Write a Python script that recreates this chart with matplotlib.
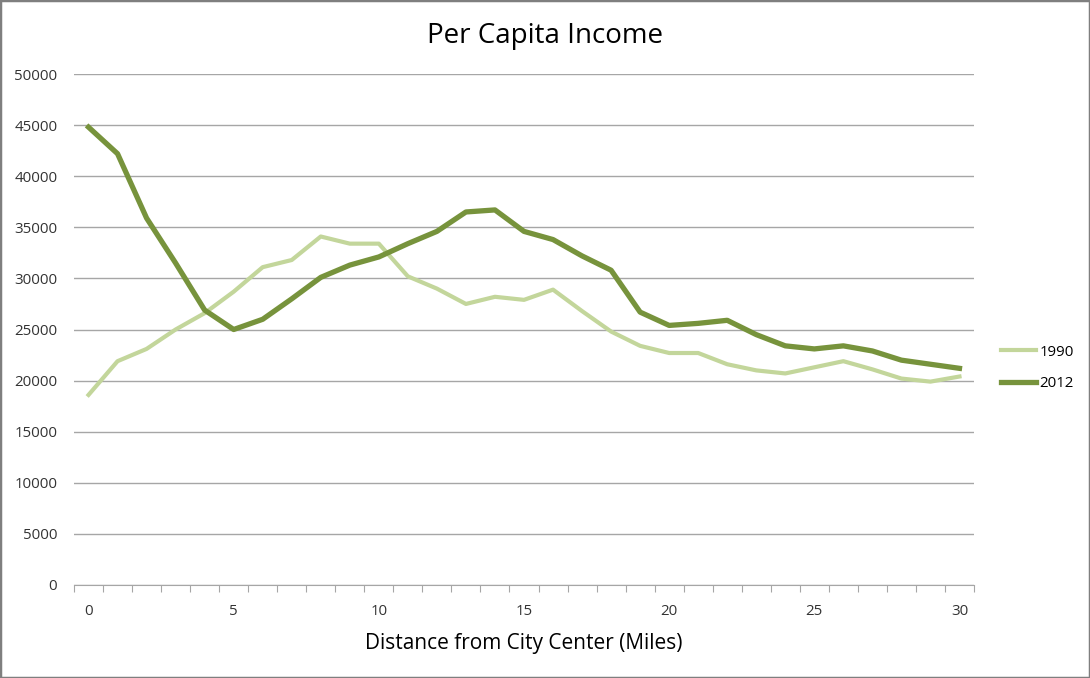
import numpy as np
import matplotlib
matplotlib.use("Agg")
import matplotlib.pyplot as plt
from matplotlib.patches import Rectangle

plt.rcParams["font.family"] = ["Open Sans", "DejaVu Sans"]

# 数据：距离市中心的英里数与人均收入
miles = list(range(31))
income_1990 = [18600, 21900, 23100, 25000, 26600, 28700, 31100, 31800, 34100, 33400,
               33400, 30200, 29000, 27500, 28200, 27900, 28900, 26800, 24800, 23400,
               22700, 22700, 21600, 21000, 20700, 21300, 21900, 21100, 20200, 19900,
               20400]
income_2012 = [44800, 42200, 35900, 31500, 26900, 25000, 26000, 28000, 30100, 31300,
               32100, 33400, 34600, 36500, 36700, 34600, 33800, 32200, 30800, 26700,
               25400, 25600, 25900, 24500, 23400, 23100, 23400, 22900, 22000, 21600,
               21200]
series_names = ["1990", "2012"]
colors = ["#c3d69b", "#77933c"]

fig = plt.figure(figsize=(10.9, 6.78), dpi=100)
ax = fig.add_axes([74 / 1090, 1 - 585 / 678, 900 / 1090, 511 / 678])

ax.plot(miles, income_1990, color=colors[0], lw=3.0, label=series_names[0], zorder=3)
ax.plot(miles, income_2012, color=colors[1], lw=3.8, label=series_names[1], zorder=4)

ax.set_xlim(-0.5, 30.5)
ax.set_ylim(0, 50000)
ax.set_yticks(np.arange(0, 50001, 5000))
ax.yaxis.grid(True, color="#a6a6a6", lw=1)
ax.set_axisbelow(True)
ax.tick_params(axis="y", length=0, pad=12, labelsize=10.8, colors="#333333")

# 分类轴：刻度线在类别边界，标签每5个
ax.set_xticks(np.arange(-0.5, 31, 1))
ax.set_xticklabels([])
ax.set_xticks(range(0, 31, 5), minor=True)
ax.set_xticklabels([str(m) for m in range(0, 31, 5)], minor=True)
ax.tick_params(axis="x", which="major", length=5, color="#a6a6a6", direction="out")
ax.tick_params(axis="x", which="minor", length=0, pad=14, labelsize=10.8, colors="#333333")

for side in ["top", "right", "left"]:
    ax.spines[side].set_visible(False)
ax.spines["bottom"].set_color("#a6a6a6")

ax.set_xlabel("Distance from City Center (Miles)", fontsize=15, labelpad=10)
fig.text(0.5, 1 - 36 / 678, "Per Capita Income", ha="center", va="center", fontsize=20)

ax.legend(loc="center left", bbox_to_anchor=(1.015, 0.425), frameon=False,
          fontsize=10.8, handlelength=2.3, handletextpad=0.25, labelspacing=1.1)

fig.patches.append(Rectangle((0, 0), 1, 1, transform=fig.transFigure, fill=False,
                             edgecolor="#7f7f7f", lw=2.5))

fig.savefig("out.png", dpi=100)
